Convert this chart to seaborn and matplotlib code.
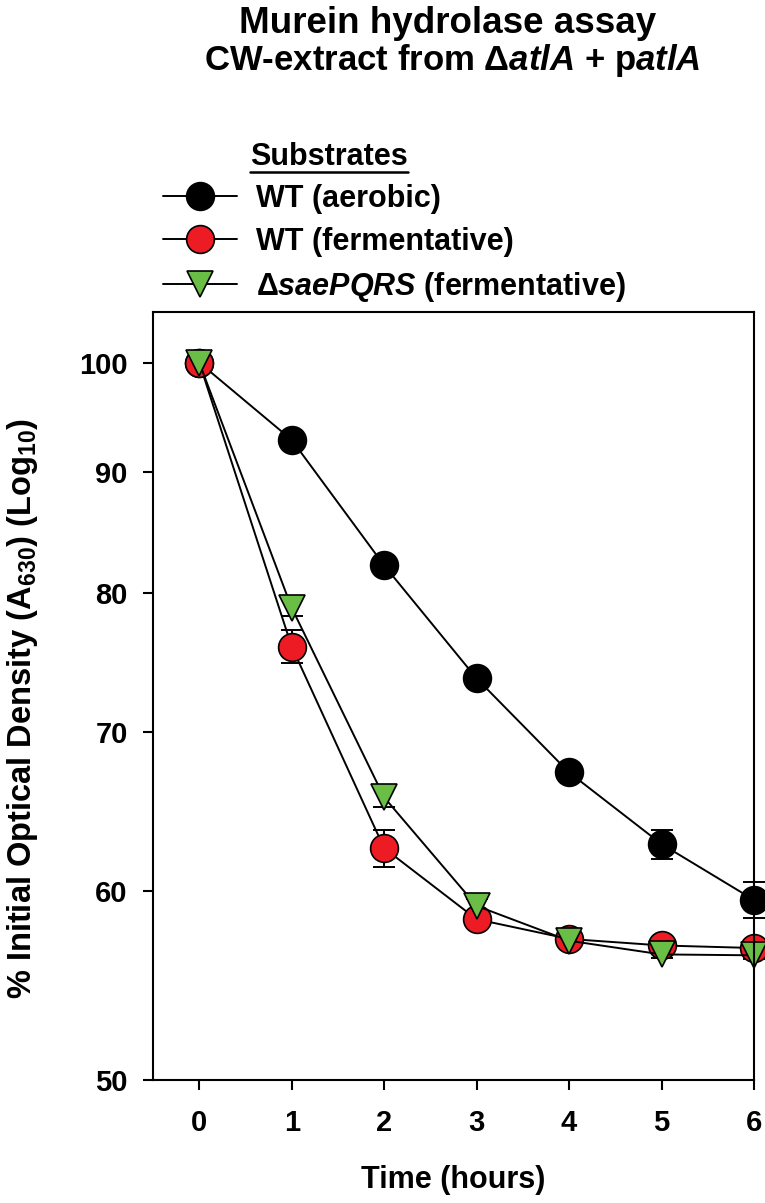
import numpy as np
import pandas as pd
import matplotlib
matplotlib.use("Agg")
import matplotlib.pyplot as plt
import seaborn as sns
from matplotlib.ticker import FixedLocator, FixedFormatter, NullLocator
from matplotlib.lines import Line2D

# estilo base
sns.set_style("ticks")
plt.rcParams['font.family'] = ['Liberation Sans', 'DejaVu Sans']
plt.rcParams['font.weight'] = 'bold'
plt.rcParams['mathtext.fontset'] = 'custom'
plt.rcParams['mathtext.rm'] = 'Liberation Sans:bold'
plt.rcParams['mathtext.bf'] = 'Liberation Sans:bold'
plt.rcParams['mathtext.it'] = 'Liberation Sans:italic:bold'
plt.rcParams['mathtext.default'] = 'bf'
for k in ['text.color', 'axes.labelcolor', 'xtick.color', 'ytick.color', 'axes.edgecolor']:
    plt.rcParams[k] = 'black'

# datos
times = [0, 1, 2, 3, 4, 5, 6]
wt_aerobic = [100, 92.8, 82.2, 73.7, 67.3, 62.8, 59.5]
wt_aerobic_err = [0.3, 0.3, 0.3, 0.3, 0.3, 0.88, 1.05]
wt_ferm = [100, 76.0, 62.55, 58.4, 57.3, 56.94, 56.8]
wt_ferm_err = [0.3, 1.2, 1.13, 0.3, 0.3, 0.3, 0.3]
sae_ferm = [100, 78.9, 65.7, 59.16, 57.2, 56.45, 56.4]
sae_ferm_err = [0.3, 0.6, 0.6, 0.4, 0.2, 0.2, 0.2]

labels = ["WT (aerobic)", "WT (fermentative)", r"Δ$\mathit{saePQRS}$ (fermentative)"]
yticks = [50, 60, 70, 80, 90, 100]
xticks = [0, 1, 2, 3, 4, 5, 6]

fig = plt.figure(figsize=(7.65, 12.03), dpi=100)
ax = fig.add_axes([0.2, 0.10224, 0.7856, 0.6384])

series = [
    (wt_aerobic, wt_aerobic_err, 'o', 'black', 20),
    (wt_ferm, wt_ferm_err, 'o', '#ED1C24', 20),
    (sae_ferm, sae_ferm_err, 'v', '#6ABD45', 19),
]

handles = []
for (vals, errs, mk, fc, ms), lab in zip(series, labels):
    ax.errorbar(times, vals, yerr=errs, fmt='none', ecolor='black',
                elinewidth=1.4, capsize=8, capthick=1.4, zorder=1.8, clip_on=False)
    n = len(ax.lines)
    sns.lineplot(x=times, y=vals, ax=ax, color='black', lw=1.4, marker=mk,
                 markersize=ms, markerfacecolor=fc, markeredgecolor='black',
                 markeredgewidth=1.2, errorbar=None, legend=False, clip_on=False)
    handles.append(ax.lines[n])

ax.set_yscale('log')
ax.set_xlim(-0.5, 6)
ax.set_ylim(50, 105)
ax.yaxis.set_major_locator(FixedLocator(yticks))
ax.yaxis.set_major_formatter(FixedFormatter([str(v) for v in yticks]))
ax.yaxis.set_minor_locator(NullLocator())
ax.set_xticks(xticks)
ax.set_xticklabels([str(v) for v in xticks])

for s in ax.spines.values():
    s.set_linewidth(1.5)
ax.tick_params(axis='x', direction='out', length=7.2, width=1.5, pad=14, labelsize=21)
ax.tick_params(axis='y', direction='out', length=7.2, width=1.5, pad=11, labelsize=21)
for lbl in ax.get_xticklabels() + ax.get_yticklabels():
    lbl.set_fontweight('bold')

ax.set_xlabel("Time (hours)", fontsize=22, fontweight='bold')
ax.xaxis.set_label_coords(0.5, -0.111)
ax.set_ylabel("")
fig.text(23 / 765, 1 - 708 / 1203,
         r"% Initial Optical Density (A$_{630}$) (Log$_{10}$)",
         rotation=90, ha='center', va='center', fontsize=23.5, fontweight='bold')

# titulo
fig.text(448 / 765, 1 - 33 / 1203, "Murein hydrolase assay",
         fontsize=26.5, fontweight='bold', ha='center', va='baseline')
fig.text(452 / 765, 1 - 70 / 1203, r"CW-extract from Δ$\mathit{atlA}$ + p$\mathit{atlA}$",
         fontsize=25, fontweight='bold', ha='center', va='baseline')

# leyenda
fig.legend(handles, labels, loc='upper left', bbox_to_anchor=(163 / 765, 1 - 184 / 1203),
           frameon=False, fontsize=22, handlelength=2.42, handletextpad=0.62,
           labelspacing=0.42, borderpad=0, borderaxespad=0)
sub = fig.text(250 / 765, 1 - 165 / 1203, "Substrates", fontsize=22,
               fontweight='bold', ha='left', va='baseline')
fig.canvas.draw()
bb = sub.get_window_extent().transformed(fig.transFigure.inverted())
yl = 1 - 172 / 1203
fig.add_artist(Line2D([bb.x0, bb.x1], [yl, yl], transform=fig.transFigure,
                      color='black', lw=1.8))

plt.savefig('out.png', dpi=100)
